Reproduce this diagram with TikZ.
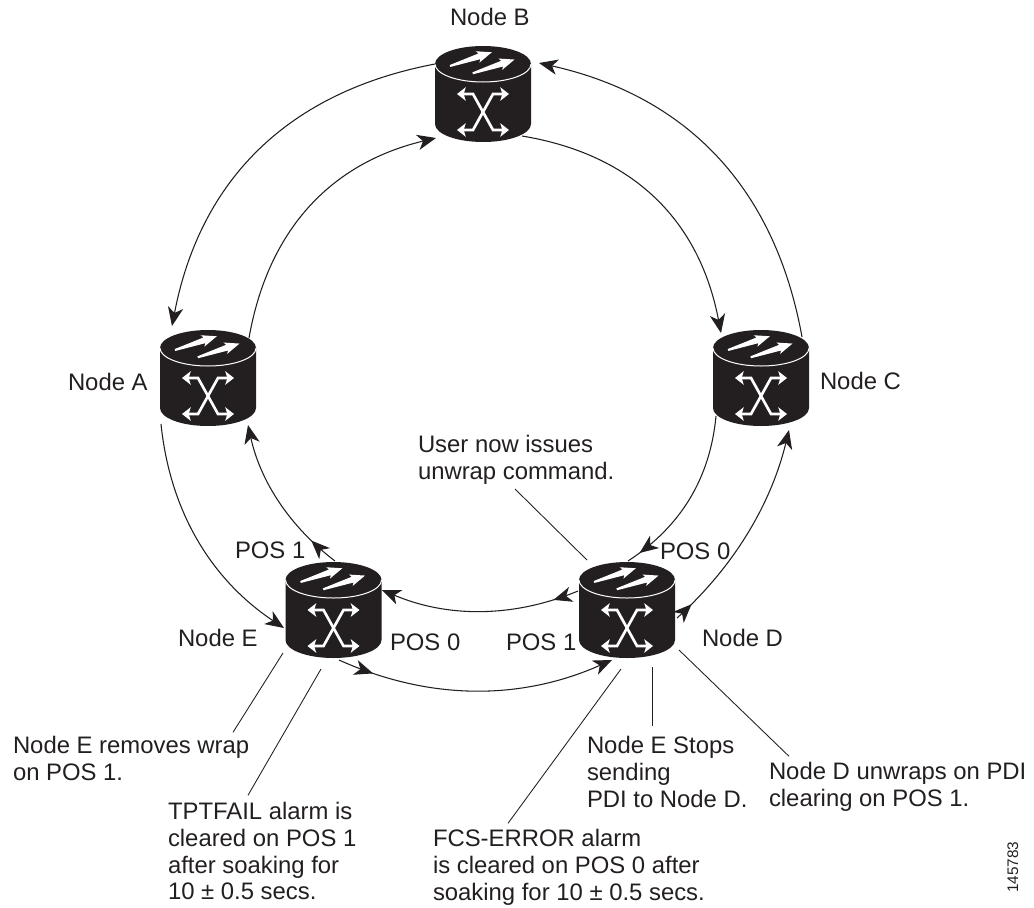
\documentclass[tikz,border=0pt]{standalone}
\usepackage{fontspec}
\setmainfont{Liberation Sans}
\usetikzlibrary{arrows.meta,calc,decorations.markings}
\definecolor{ink}{HTML}{231F20}
\tikzset{
  conn/.style={draw=ink,line width=0.8pt},
  leadline/.style={draw=ink,line width=0.65pt},
  endtip/.style={-{Stealth[length=14pt,width=11.5pt,inset=4pt]}},
  midtip/.style={postaction={decorate,decoration={markings,mark=at position #1 with {\arrow{Stealth[length=14pt,width=11.5pt,inset=4pt]}}}}},
  routerbox/.style={minimum width=72pt,minimum height=72pt,inner sep=0pt},
  crossline/.style={draw=white,line width=2pt,{Stealth[length=6.5pt,width=10pt,inset=1.5pt]}-{Stealth[length=6.5pt,width=10pt,inset=1.5pt]}},
  lbl/.style={anchor=north west,inner sep=0pt,outer sep=0pt,align=left,text=ink,font=\fontsize{17.9}{20}\selectfont},
}
\newcommand{\toparrow}[2]{%
  \fill[white,shift={(#1,#2)},rotate=18.2] (0,-1) -- (31,-3) -- (29,-6) -- (44,0) -- (29,6) -- (31,3) -- (0,1) -- cycle;}
\newcommand{\routerdraw}[3]{%
  \node[routerbox] (#1) at (#2,#3) {};
  \begin{scope}[shift={(#1)}]
    \fill[ink] (-48,-30) .. controls (-48,-40) and (-26.5,-48) .. (0,-48)
      .. controls (26.5,-48) and (48,-40) .. (48,-30) -- (48,30)
      .. controls (48,40) and (26.5,48) .. (0,48)
      .. controls (-26.5,48) and (-48,40) .. (-48,30) -- cycle;
    \draw[white,line width=0.75pt] (-48,-30) .. controls (-48,-20) and (-26.5,-12) .. (0,-12)
      .. controls (26.5,-12) and (48,-20) .. (48,-30);
    \toparrow{-33}{-28}
    \toparrow{-10.3}{-20.7}
    \draw[crossline] (-26,0) -- (-10,0) -- (10,36) -- (26,36);
    \draw[crossline] (26,0) -- (10,0) -- (-10,36) -- (-26,36);
  \end{scope}}
% \conn{options}{from node}{offset}{via}{to node}{offset}
\newcommand{\conn}[6]{%
  \coordinate (cs) at ($(#2)+(#3)$);
  \coordinate (ce) at ($(#5)+(#6)$);
  \coordinate (cm) at (#4);
  \draw[conn,#1] (cs) .. controls ($(cm)!-1/3!(ce)$) and ($(cm)!-1/3!(cs)$) .. (ce);}
\newcommand{\leadto}[4]{\draw[leadline] ($(#1)+(#2)$) -- ($(#3.north west)+(#4)$);}
\begin{document}
\begin{tikzpicture}[x=0.75pt,y=-0.75pt]
\useasboundingbox (0,0) rectangle (1034,907);
\routerdraw{B}{483}{94}
\routerdraw{A}{208}{378}
\routerdraw{C}{761}{378}
\routerdraw{E}{333.5}{610}
\routerdraw{D}{627}{610}
% ring
\conn{endtip}{B}{-48,-30}{259,150.5}{A}{-36,-52}
\conn{endtip}{A}{41,-40}{310,207}{B}{-47,44}
\conn{endtip}{B}{39,42}{655,199}{C}{-40,-45}
\conn{endtip}{C}{41,-41}{716,156.5}{B}{56,-31}
\conn{endtip}{A}{-47,46}{198.5,540.5}{E}{-49.5,18}
\conn{endtip,midtip=0.19}{E}{1.5,-49}{279,501}{A}{40,47}
\conn{endtip,midtip=0.13}{E}{5.5,50}{475,690.5}{D}{-15,50}
\conn{endtip,midtip=0.13}{D}{-49,-19}{480,611}{E}{48.5,-20}
\conn{midtip=0.92}{C}{-45,38}{689.6,499}{D}{1,-49}
\conn{endtip,midtip=0.09}{D}{50,8}{747.5,532.7}{C}{28,52}
% labels
\node[lbl] (lB) at (450,7.3) {\strut Node B};
\node[lbl] (lA) at (68,372.3) {\strut Node A};
\node[lbl] (lC) at (820,371.3) {\strut Node C};
\node[lbl] (lE) at (178,628.3) {\strut Node E};
\node[lbl] (lD) at (702,628.3) {\strut Node D};
\node[lbl] (p1) at (235,540.3) {\strut POS 1};
\node[lbl] (p0) at (660,541.3) {\strut POS 0};
\node[lbl] (p0e) at (390,632.3) {\strut POS 0};
\node[lbl] (p1d) at (506,632.3) {\strut POS 1};
\node[lbl] (nuser) at (418,434.3) {\strut User now issues\\unwrap command.};
\node[lbl] (nwrap) at (13,735.3) {\strut Node E removes wrap\\on POS 1.};
\node[lbl] (ntpt) at (168,801.3) {\strut TPTFAIL alarm is\\cleared on POS 1\\after soaking for\\10 ± 0.5 secs.};
\node[lbl] (nfcs) at (433,828.3) {\strut FCS-ERROR alarm\\is cleared on POS 0 after\\soaking for 10 ± 0.5 secs.};
\node[lbl] (nstop) at (587,735.3) {\strut Node E Stops\\sending\\PDI to Node D.};
\node[lbl] (nunw) at (769,761.3) {\strut Node D unwraps on PDI\\clearing on POS 1.};
\node[anchor=base west,rotate=90,inner sep=0pt,text=ink,font=\fontsize{11.5}{14}\selectfont] (fig) at (1018,893) {145783};
% leader lines
\leadto{D}{-40,-50}{nuser}{97,54.7}
\leadto{E}{-50.5,43}{nwrap}{220,-3}
\leadto{E}{-12.5,59}{ntpt}{80,-6}
\leadto{D}{-6,59}{nfcs}{75,-5}
\leadto{D}{25,57}{nstop}{65,-9}
\leadto{D}{52,40}{nunw}{20,-5}
\end{tikzpicture}
\end{document}
